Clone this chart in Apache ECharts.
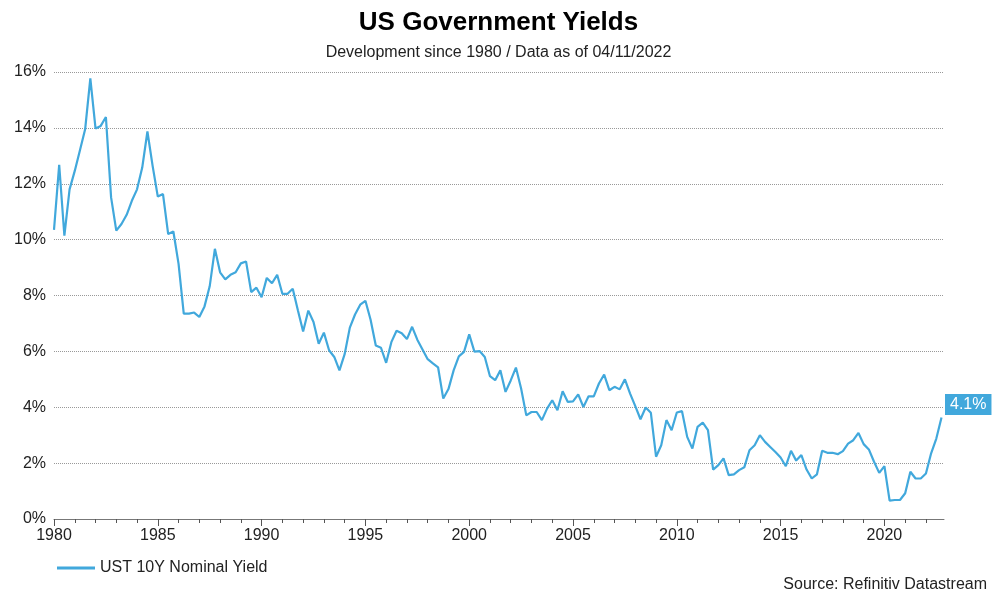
<!DOCTYPE html>
<html>
<head>
<meta charset="utf-8">
<script src="https://cdn.jsdelivr.net/npm/echarts@6/dist/echarts.min.js"></script>
<style>
html,body{margin:0;padding:0;background:#fff;}
#chart{width:997px;height:599px;}
</style>
</head>
<body>
<div id="chart"></div>
<script>
// ---- data (quarterly, starting 1980 Q1) ----
var startYear = 1980;
var periodsPerYear = 4;
var seriesName = 'UST 10Y Nominal Yield';
var yields = [
  10.35,12.68,10.14,11.8,12.46,13.2,13.95,15.77,13.98,14.07,14.39,11.51,10.32,10.56,10.89,11.39,11.8,12.58,13.87,12.64,11.54,11.63,10.2,10.29,9.13,7.35,7.35,7.39,7.23,
  7.61,8.33,9.67,8.83,8.58,8.74,8.83,9.15,9.22,8.12,8.28,7.94,8.63,8.44,8.74,8.06,8.06,8.24,7.46,6.71,7.46,7.05,6.27,6.67,6.04,5.8,5.32,5.9,6.85,
  7.32,7.67,7.81,7.13,6.21,6.13,5.59,6.33,6.74,6.65,6.44,6.88,6.42,6.07,5.72,5.57,5.43,4.31,4.65,5.32,5.82,5.98,6.61,5.99,6.01,5.8,5.11,4.97,5.32,
  4.55,4.96,5.42,4.67,3.71,3.83,3.83,3.54,3.95,4.25,3.89,4.57,4.19,4.21,4.46,4.01,4.39,4.39,4.85,5.17,4.61,4.73,4.64,5.0,4.49,4.04,3.57,3.99,3.8,
  2.23,2.64,3.54,3.18,3.81,3.86,2.94,2.52,3.3,3.45,3.18,1.77,1.93,2.17,1.57,1.6,1.75,1.85,2.46,2.64,3.0,2.76,2.58,2.4,2.2,1.89,2.44,2.09,
  2.29,1.77,1.45,1.6,2.44,2.37,2.37,2.32,2.43,2.7,2.82,3.08,2.68,2.49,2.05,1.65,1.89,0.66,0.68,0.68,0.92,1.69,1.45,1.45,1.63,2.35,2.88,3.63
];
var latestValue = 4.1;
var yTicks = [0, 2, 4, 6, 8, 10, 12, 14, 16];
var xMin = 1980, xMax = 2022.87;
var yearTicks = [];
for (var y = 1980; y <= 2022; y++) yearTicks.push(y);
var majorYears = [1980, 1985, 1990, 1995, 2000, 2005, 2010, 2015, 2020];

var points = yields.map(function (v, i) { return [startYear + i / periodsPerYear, v]; });

var blue = '#41a8dc';
var font = 'Liberation Sans, Arial, sans-serif';

var chart = echarts.init(document.getElementById('chart'));
chart.setOption({
  animation: false,
  textStyle: { fontFamily: font },
  title: {
    text: 'US Government Yields',
    subtext: 'Development since 1980 / Data as of 04/11/2022',
    left: 'center',
    top: 5,
    itemGap: 9,
    textStyle: { fontSize: 26, fontWeight: 'bold', color: '#000', fontFamily: font },
    subtextStyle: { fontSize: 16, color: '#222', fontFamily: font }
  },
  legend: {
    left: 52,
    top: 555,
    icon: 'rect',
    itemWidth: 38,
    itemHeight: 3,
    textStyle: { fontSize: 16, color: '#222', fontFamily: font },
    data: [seriesName]
  },
  grid: { left: 54, right: 53, top: 72, bottom: 80, containLabel: false },
  xAxis: [{
    type: 'value',
    min: xMin,
    max: xMax,
    interval: 1,
    splitLine: { show: false },
    axisLine: { show: true, lineStyle: { color: '#777', width: 1 } },
    axisTick: { show: true, length: 4, customValues: yearTicks, lineStyle: { color: '#555' } },
    axisLabel: { customValues: majorYears, fontSize: 16, color: '#222', margin: 9, fontFamily: font,
      formatter: function (v) { return String(Math.round(v)); } }
  }, {
    type: 'value',
    min: xMin,
    max: xMax,
    position: 'bottom',
    splitLine: { show: false },
    axisLine: { show: false },
    axisTick: { show: true, length: 7, customValues: majorYears, lineStyle: { color: '#555' } },
    axisLabel: { show: false }
  }],
  yAxis: {
    type: 'value',
    min: yTicks[0],
    max: yTicks[yTicks.length - 1],
    interval: 2,
    axisLine: { show: false },
    axisTick: { show: false },
    axisLabel: { fontSize: 16, color: '#222', margin: 8, formatter: '{value}%', fontFamily: font },
    splitLine: { show: true, lineStyle: { type: 'dotted', color: '#999', width: 1 } }
  },
  series: [{
    name: seriesName,
    type: 'line',
    xAxisIndex: 0,
    data: points,
    showSymbol: false,
    symbol: 'none',
    lineStyle: { color: blue, width: 2.2 },
    itemStyle: { color: blue },
    markPoint: {
      symbol: 'circle',
      symbolSize: 0,
      silent: true,
      data: [{ coord: [xMax, latestValue], value: latestValue }],
      label: {
        show: true,
        position: 'right',
        distance: 1,
        formatter: function (p) { return p.value + '%'; },
        backgroundColor: blue,
        color: '#fff',
        fontSize: 16,
        fontFamily: font,
        padding: [3, 5, 2, 5]
      }
    }
  }],
  graphic: [{
    type: 'text',
    right: 10,
    top: 577,
    style: { text: 'Source: Refinitiv Datastream', fontSize: 16, fill: '#222', fontFamily: font }
  }]
});
</script>
</body>
</html>
